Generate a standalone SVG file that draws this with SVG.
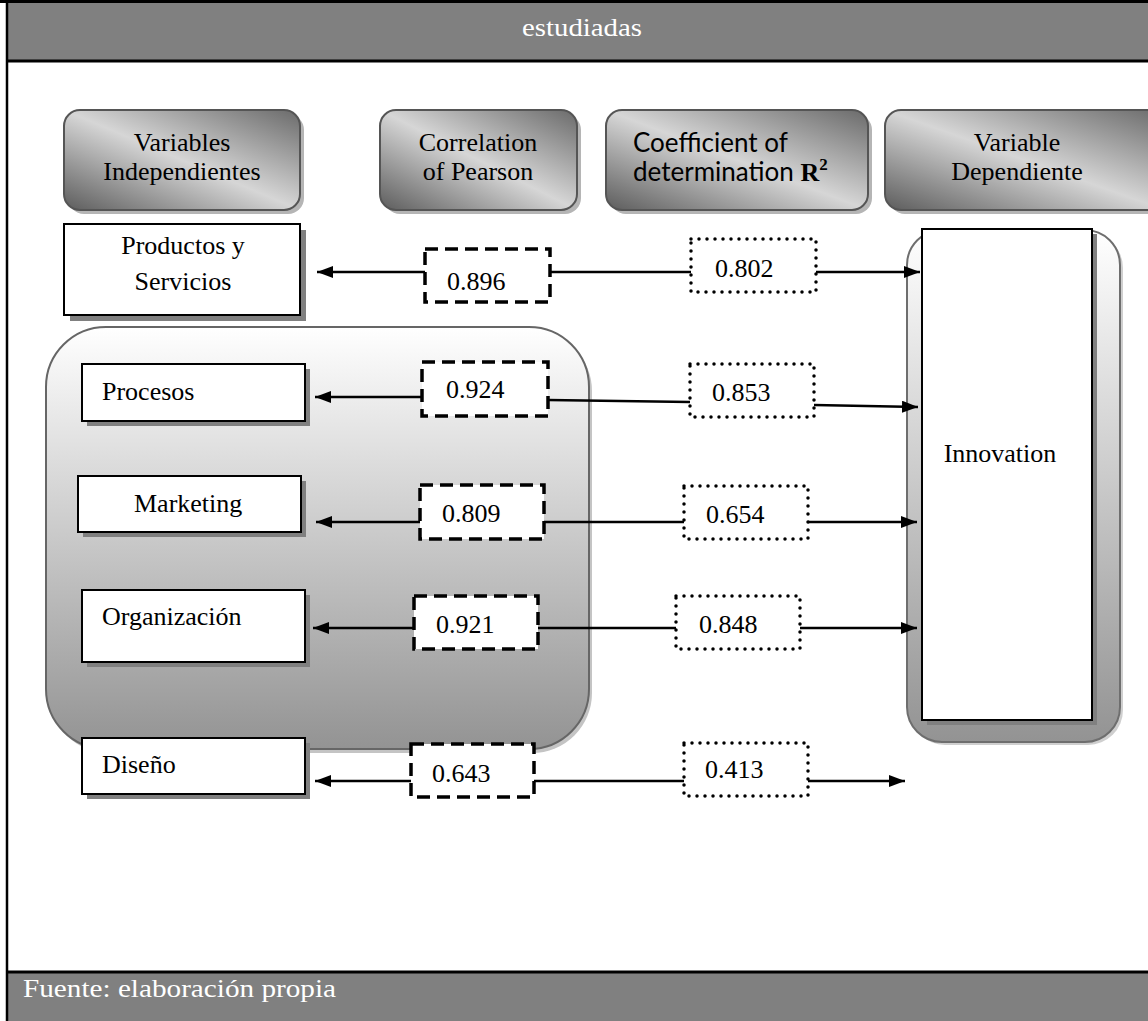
<svg xmlns="http://www.w3.org/2000/svg" width="1148" height="1021" viewBox="0 0 1148 1021">
<style>
.t{font-family:"Liberation Serif","Times New Roman",serif;font-size:26px;fill:#000}
.w{font-family:"Liberation Serif","Times New Roman",serif;font-size:26px;fill:#fff}
.c{font-family:Lato,"Liberation Sans",sans-serif;font-size:26px;fill:#000}
.hb{fill:url(#hdr);stroke:#555;stroke-width:2}
.hs{fill:#b5b5b5}
.box{fill:#fff;stroke:#000;stroke-width:2}
.sh{fill:#808080}
.dash{fill:#fff;stroke:#000;stroke-width:3.5;stroke-dasharray:13 7}
.dot{fill:#fff;stroke:#000;stroke-width:3.5;stroke-dasharray:0 8;stroke-linecap:round}
.ln{stroke:#000;stroke-width:2.5;fill:none}
.ar{stroke:#000;stroke-width:2.5;fill:none;marker-end:url(#ah)}
.mid{text-anchor:middle}
</style>
<defs>
<linearGradient id="hdr" x1="0" y1="1" x2="1" y2="0">
<stop offset="0" stop-color="#5c5c5c"/>
<stop offset="0.5" stop-color="#d6d6d6"/>
<stop offset="1" stop-color="#6a6a6a"/>
</linearGradient>
<linearGradient id="cont" x1="0" y1="0" x2="0" y2="1">
<stop offset="0" stop-color="#ffffff"/>
<stop offset="1" stop-color="#939393"/>
</linearGradient>
<marker id="ah" viewBox="0 0 16 12" refX="16" refY="6" markerWidth="16" markerHeight="12" markerUnits="userSpaceOnUse" orient="auto">
<path d="M0,0 L16,6 L0,12 z" fill="#000"/>
</marker>
</defs>

<g id="frame">
<rect x="7" y="2" width="1141" height="59" fill="#808080"/>
<rect x="7" y="972" width="1141" height="49" fill="#808080"/>
<line x1="0" y1="1.5" x2="1148" y2="1.5" stroke="#000" stroke-width="3"/>
<line x1="7" y1="61" x2="1148" y2="61" stroke="#000" stroke-width="3"/>
<line x1="7" y1="972" x2="1148" y2="972" stroke="#000" stroke-width="3"/>
<line x1="7" y1="0" x2="7" y2="1021" stroke="#000" stroke-width="2.5"/>
<text class="w mid" x="582" y="36" textLength="120" lengthAdjust="spacingAndGlyphs">estudiadas</text>
<text class="w" x="23" y="997" textLength="313" lengthAdjust="spacingAndGlyphs">Fuente: elaboración propia</text>
</g>

<g id="hdr-independientes">
<rect class="hs" x="68" y="114" width="236" height="100" rx="16"/>
<rect class="hb" x="64" y="110" width="236" height="100" rx="16"/>
<text class="t mid" x="182" y="151">Variables</text>
<text class="t mid" x="182" y="180">Independientes</text>
</g>
<g id="hdr-pearson">
<rect class="hs" x="384" y="114" width="197" height="100" rx="16"/>
<rect class="hb" x="380" y="110" width="197" height="100" rx="16"/>
<text class="t mid" x="478" y="151">Correlation</text>
<text class="t mid" x="478" y="180">of Pearson</text>
</g>
<g id="hdr-r2">
<rect class="hs" x="610" y="114" width="262" height="100" rx="16"/>
<rect class="hb" x="606" y="110" width="262" height="100" rx="16"/>
<text class="c" x="633" y="152">Coefficient of</text>
<text class="c" x="633" y="181">determination <tspan font-family="Liberation Serif, serif" font-weight="bold">R</tspan><tspan font-family="Liberation Serif, serif" font-weight="bold" font-size="17" dy="-11">2</tspan></text>
</g>
<g id="hdr-dependiente">
<rect class="hs" x="889" y="114" width="280" height="100" rx="16"/>
<rect class="hb" x="885" y="110" width="280" height="100" rx="16"/>
<text class="t mid" x="1017" y="151">Variable</text>
<text class="t mid" x="1017" y="180">Dependiente</text>
</g>

<g id="productos">
<rect class="sh" x="70" y="230" width="236" height="91"/>
<rect class="box" x="64" y="224" width="236" height="91"/>
<text class="t mid" x="183" y="254">Productos y</text>
<text class="t mid" x="183" y="290">Servicios</text>
</g>

<g id="grupo">
<rect x="49" y="331" width="543" height="422" rx="60" fill="#c4c4c4"/>
<rect x="46" y="327" width="543" height="422" rx="60" fill="url(#cont)" stroke="#666" stroke-width="2"/>
</g>

<g id="procesos">
<rect class="sh" x="87" y="369" width="223" height="57"/>
<rect class="box" x="82" y="364" width="223" height="57"/>
<text class="t" x="102" y="400">Procesos</text>
</g>
<g id="marketing">
<rect class="sh" x="83" y="481" width="223" height="56"/>
<rect class="box" x="78" y="476" width="223" height="56"/>
<text class="t" x="134" y="512">Marketing</text>
</g>
<g id="organizacion">
<rect class="sh" x="87" y="595" width="223" height="72"/>
<rect class="box" x="82" y="590" width="223" height="72"/>
<text class="t" x="102" y="625">Organización</text>
</g>
<g id="diseno">
<rect class="sh" x="87" y="743" width="223" height="56"/>
<rect class="box" x="82" y="738" width="223" height="56"/>
<text class="t" x="102" y="773">Diseño</text>
</g>

<g id="innovation">
<rect x="910" y="233" width="213" height="512" rx="35" fill="#cfcfcf"/>
<rect x="907" y="230" width="213" height="512" rx="35" fill="url(#cont)" stroke="#6e6e6e" stroke-width="2"/>
<rect class="sh" x="927" y="234" width="170" height="491"/>
<rect class="box" x="922" y="229" width="170" height="491"/>
<text class="t mid" x="1000" y="462">Innovation</text>
</g>

<g id="values">
<rect class="dash" x="425" y="249" width="125" height="53"/>
<text class="t" x="447" y="290">0.896</text>
<rect class="dot" x="691" y="239" width="125" height="53"/>
<text class="t" x="715" y="277">0.802</text>
<rect class="dash" x="422" y="362" width="126" height="54"/>
<text class="t" x="446" y="398">0.924</text>
<rect class="dot" x="690" y="364" width="124" height="53"/>
<text class="t" x="712" y="401">0.853</text>
<rect class="dash" x="420" y="485" width="124" height="54"/>
<text class="t" x="442" y="522">0.809</text>
<rect class="dot" x="684" y="486" width="124" height="53"/>
<text class="t" x="706" y="523">0.654</text>
<rect class="dash" x="414" y="596" width="124" height="53"/>
<text class="t" x="436" y="633">0.921</text>
<rect class="dot" x="676" y="596" width="124" height="53"/>
<text class="t" x="699" y="633">0.848</text>
<rect class="dash" x="411" y="744" width="123" height="53"/>
<text class="t" x="432" y="782">0.643</text>
<rect class="dot" x="684" y="743" width="124" height="53"/>
<text class="t" x="705" y="778">0.413</text>
</g>

<g id="connectors">
<line class="ar" x1="425" y1="272" x2="317" y2="272"/>
<line class="ln" x1="550" y1="272" x2="691" y2="272"/>
<line class="ar" x1="816" y1="272" x2="920" y2="272"/>
<line class="ar" x1="422" y1="397" x2="315" y2="397"/>
<line class="ln" x1="548" y1="400" x2="690" y2="402"/>
<line class="ar" x1="814" y1="405" x2="918" y2="407"/>
<line class="ar" x1="420" y1="522" x2="316" y2="522"/>
<line class="ln" x1="544" y1="522" x2="684" y2="522"/>
<line class="ar" x1="808" y1="522" x2="917" y2="522"/>
<line class="ar" x1="414" y1="628" x2="313" y2="628"/>
<line class="ln" x1="538" y1="628" x2="676" y2="628"/>
<line class="ar" x1="800" y1="628" x2="917" y2="628"/>
<line class="ar" x1="411" y1="781" x2="315" y2="781"/>
<line class="ln" x1="534" y1="781" x2="684" y2="781"/>
<line class="ar" x1="808" y1="781" x2="905" y2="781"/>
</g>
</svg>
